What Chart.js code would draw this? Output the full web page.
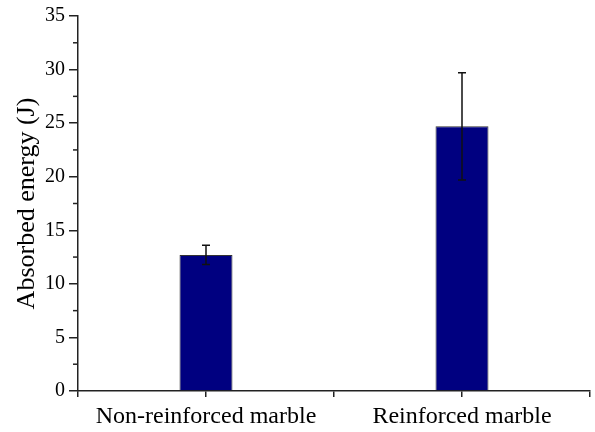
<!DOCTYPE html>
<html>
<head>
<meta charset="utf-8">
<script src="https://cdn.jsdelivr.net/npm/chart.js@4"></script>
<style>
  html, body { margin: 0; padding: 0; background: #fff; }
  #wrap { width: 595px; height: 432px; }
</style>
</head>
<body>
<div id="wrap"><canvas id="grafico" width="595" height="432"></canvas></div>
<script>
// Dati
const categorie = ['Non-reinforced marble', 'Reinforced marble'];
const energiaAssorbita = [12.7, 24.7];
const erroreEnergia = [0.9, 5.0];
const tickY = [0, 5, 10, 15, 20, 25, 30, 35];

const fontSerif = 'Liberation Serif, Times New Roman, serif';

// Barre di errore disegnate tramite le scale del grafico
const barreErrore = {
    id: 'barreErrore',
    afterDatasetsDraw(chart) {
        const ctx = chart.ctx;
        const x = chart.scales.x, y = chart.scales.y;
        ctx.save();
        ctx.strokeStyle = '#111';
        ctx.lineWidth = 1.5;
        energiaAssorbita.forEach((v, i) => {
            const px = x.getPixelForValue(i);
            const top = y.getPixelForValue(v + erroreEnergia[i]);
            const bot = y.getPixelForValue(v - erroreEnergia[i]);
            ctx.beginPath();
            ctx.moveTo(px, top); ctx.lineTo(px, bot);
            ctx.moveTo(px - 4, top); ctx.lineTo(px + 4, top);
            ctx.moveTo(px - 4, bot); ctx.lineTo(px + 4, bot);
            ctx.stroke();
        });
        ctx.restore();
    }
};

// Tacche minori sull'asse Y (a metà tra le maggiori)
const tacheMinori = {
    id: 'tacheMinori',
    afterDraw(chart) {
        const ctx = chart.ctx;
        const y = chart.scales.y;
        const left = chart.chartArea.left;
        ctx.save();
        ctx.strokeStyle = '#222';
        ctx.lineWidth = 1.5;
        for (let i = 0; i < tickY.length - 1; i++) {
            const py = y.getPixelForValue((tickY[i] + tickY[i + 1]) / 2);
            ctx.beginPath();
            ctx.moveTo(left - 5, py); ctx.lineTo(left, py);
            ctx.stroke();
        }
        ctx.restore();
    }
};

new Chart(document.getElementById('grafico'), {
    type: 'bar',
    data: {
        datasets: [{
            data: energiaAssorbita.map((v, i) => ({ x: i, y: v })),
            backgroundColor: '#000080',
            borderColor: '#333',
            borderWidth: 1,
            categoryPercentage: 1,
            barPercentage: 0.414
        }]
    },
    options: {
        responsive: false,
        animation: false,
        layout: { padding: { top: 13, right: 4, left: 12, bottom: 0 } },
        plugins: { legend: { display: false }, tooltip: { enabled: false } },
        scales: {
            x: {
                type: 'linear',
                offset: false,
                min: -0.5,
                max: categorie.length - 0.5,
                afterBuildTicks(scale) {
                    const t = [];
                    for (let v = -0.5; v <= categorie.length - 0.5; v += 0.5) t.push({ value: v });
                    scale.ticks = t;
                },
                afterFit(scale) { scale.height = 41; },
                border: { color: '#222', width: 1.5 },
                grid: { offset: false, drawOnChartArea: false, tickLength: 6, color: '#222', lineWidth: 1.5 },
                ticks: {
                    autoSkip: false,
                    maxRotation: 0,
                    padding: 5,
                    color: '#000',
                    font: { family: fontSerif, size: 24 },
                    callback: (v) => Number.isInteger(v) ? categorie[v] : ''
                }
            },
            y: {
                min: 0,
                max: 35,
                afterBuildTicks(scale) { scale.ticks = tickY.map(v => ({ value: v })); },
                afterFit(scale) { scale.width = 66; },
                border: { color: '#222', width: 1.5 },
                grid: { drawOnChartArea: false, tickLength: 9, color: '#222', lineWidth: 1.5 },
                ticks: {
                    padding: 4,
                    color: '#000',
                    font: { family: fontSerif, size: 20 }
                },
                title: {
                    display: true,
                    text: 'Absorbed energy (J)',
                    color: '#000',
                    padding: 0,
                    font: { family: fontSerif, size: 26 }
                }
            }
        }
    },
    plugins: [barreErrore, tacheMinori]
});
</script>
</body>
</html>
